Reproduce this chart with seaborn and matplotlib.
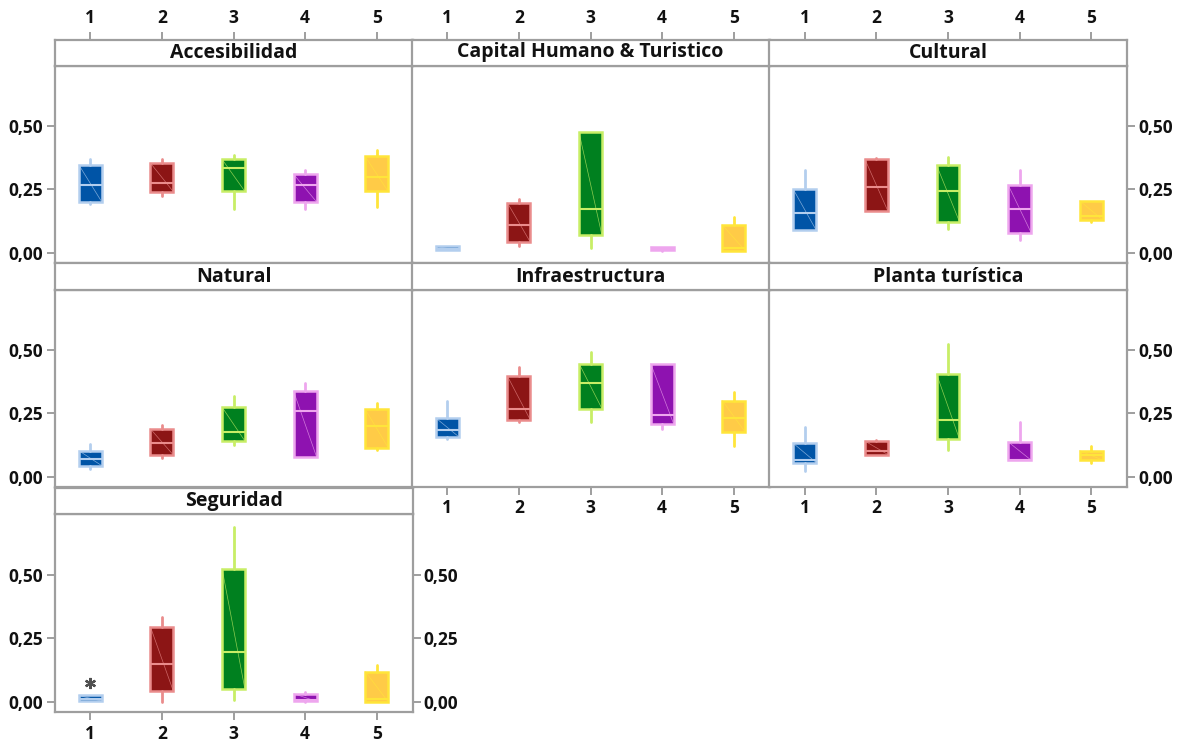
import numpy as np
import pandas as pd
import seaborn as sns
import matplotlib.pyplot as plt

# ---- data: five-number summaries per factor (rows) and group (columns) ----
factors = ["Accesibilidad", "Capital Humano & Turistico", "Cultural",
           "Natural", "Infraestructura", "Planta turística", "Seguridad"]
groups = [1, 2, 3, 4, 5]

whisker_low = [
    [0.191, 0.224, 0.171, 0.171, 0.178],
    [0.009, 0.026, 0.017, 0.008, 0.006],
    [0.088, 0.164, 0.093, 0.051, 0.121],
    [0.029, 0.072, 0.124, 0.078, 0.104],
    [0.150, 0.215, 0.215, 0.189, 0.121],
    [0.020, 0.087, 0.104, 0.065, 0.055],
    [0.004, 0.000, 0.009, 0.000, 0.000],
]
quart1 = [
    [0.200, 0.240, 0.241, 0.200, 0.241],
    [0.009, 0.041, 0.068, 0.009, 0.008],
    [0.088, 0.164, 0.122, 0.079, 0.129],
    [0.043, 0.085, 0.140, 0.078, 0.114],
    [0.157, 0.223, 0.268, 0.209, 0.176],
    [0.055, 0.087, 0.148, 0.065, 0.065],
    [0.004, 0.043, 0.050, 0.003, 0.001],
]
median = [
    [0.268, 0.276, 0.333, 0.268, 0.300],
    [0.016, 0.110, 0.172, 0.015, 0.018],
    [0.155, 0.257, 0.241, 0.171, 0.145],
    [0.068, 0.131, 0.174, 0.258, 0.198],
    [0.183, 0.268, 0.369, 0.244, 0.232],
    [0.064, 0.100, 0.223, 0.066, 0.085],
    [0.013, 0.148, 0.198, 0.010, 0.013],
]
quart3 = [
    [0.346, 0.353, 0.368, 0.309, 0.379],
    [0.024, 0.196, 0.474, 0.022, 0.109],
    [0.249, 0.368, 0.345, 0.267, 0.204],
    [0.102, 0.188, 0.274, 0.336, 0.265],
    [0.231, 0.396, 0.446, 0.446, 0.300],
    [0.131, 0.140, 0.405, 0.137, 0.102],
    [0.026, 0.295, 0.524, 0.033, 0.120],
]
whisker_high = [
    [0.368, 0.368, 0.386, 0.325, 0.404],
    [0.024, 0.210, 0.474, 0.022, 0.142],
    [0.325, 0.375, 0.378, 0.325, 0.204],
    [0.128, 0.205, 0.317, 0.368, 0.291],
    [0.300, 0.431, 0.490, 0.446, 0.333],
    [0.196, 0.144, 0.522, 0.215, 0.120],
    [0.026, 0.334, 0.687, 0.039, 0.144],
]
outlier_factor = ["Seguridad"]
outlier_group = [1]
outlier_value = [0.076]

ytick_values = [0.0, 0.25, 0.50]
ytick_labels = ["0,00", "0,25", "0,50"]

fill_colors = ["#0054A6", "#8C1515", "#00801F", "#8E12B0", "#FFCB47"]
edge_colors = ["#B3CEEE", "#EA8C8C", "#C8EE66", "#EEA6EE", "#FFE53A"]
frame_color = "#9E9E9E"
text_color = "#111111"

rows = []
for i, f in enumerate(factors):
    for j, grp in enumerate(groups):
        fl = [v for of, og, v in zip(outlier_factor, outlier_group, outlier_value)
              if of == f and og == grp]
        rows.append(dict(factor=f, group=grp, lo=whisker_low[i][j], q1=quart1[i][j],
                         med=median[i][j], q3=quart3[i][j], hi=whisker_high[i][j],
                         fliers=fl))
df = pd.DataFrame(rows)

sns.set_theme(style="white")
plt.rcParams["font.family"] = ["Open Sans", "DejaVu Sans"]
plt.rcParams["font.weight"] = "bold"

BOX_W = 0.32


def draw_boxes(data, **kws):
    ax = plt.gca()
    stats = [dict(whislo=r.lo, q1=r.q1, med=r.med, q3=r.q3, whishi=r.hi,
                  fliers=r.fliers, label=str(r.group)) for r in data.itertuples()]
    pos = data["group"].to_numpy()
    art = ax.bxp(stats, positions=pos, widths=BOX_W, patch_artist=True,
                 showcaps=False, manage_ticks=False,
                 flierprops=dict(marker=(6, 2, 0), markersize=8,
                                 markeredgecolor="#505050", markeredgewidth=1.6,
                                 linestyle="none"),
                 zorder=3)
    for k, grp in enumerate(pos):
        c = groups.index(grp)
        box = art["boxes"][k]
        box.set_facecolor(fill_colors[c])
        box.set_edgecolor(edge_colors[c])
        box.set_linewidth(1.8)
        art["medians"][k].set_color(edge_colors[c])
        art["medians"][k].set_linewidth(1.5)
        for w in art["whiskers"][2 * k:2 * k + 2]:
            w.set_color(edge_colors[c])
            w.set_linewidth(2.0)
        # thin diagonal across each box
        r = data.iloc[k]
        ax.plot([grp - BOX_W / 2, grp + BOX_W / 2], [r.q3, r.q1],
                color=edge_colors[c], lw=0.5, alpha=0.7, zorder=4)


g = sns.FacetGrid(df, col="factor", col_wrap=3, col_order=factors,
                  sharex=False, sharey=False, despine=False, height=2, aspect=1.8)
g.map_dataframe(draw_boxes)
g.set_titles("")
g.set_axis_labels("", "")

fig = g.figure
fig.set_size_inches(11.8, 7.42)
W, H = 1180.0, 742.0

col_left = [54.5, 411.5, 769.0]
col_width = 358.0
strip_top = [39.5, 263.5, 488.0]
strip_h = 26.0
plot_bottom = [262.7, 486.7, 712.3]

tick_kw = dict(direction="out", length=6, width=1.4, color=frame_color,
               labelsize=12.5, labelcolor=text_color)

for idx, (ax, name) in enumerate(zip(g.axes.flat, factors)):
    r, c = divmod(idx, 3)
    top = strip_top[r] + strip_h
    ax.set_position([col_left[c] / W, 1 - plot_bottom[r] / H,
                     col_width / W, (plot_bottom[r] - top) / H])
    ax.set_xlim(0.5, 5.5)
    ax.set_ylim(-0.04, 0.738)
    ax.set_facecolor("white")
    for sp in ax.spines.values():
        sp.set_color(frame_color)
        sp.set_linewidth(1.6)
    ax.set_xticks(groups, labels=[str(v) for v in groups])
    ax.set_yticks(ytick_values, labels=ytick_labels)
    bottom_ticks = (r == 2 and c == 0) or (r == 1 and c in (1, 2))
    left_ticks = c == 0
    right_ticks = (c == 2) or (r == 2 and c == 0)
    ax.tick_params(axis="x", bottom=bottom_ticks, labelbottom=bottom_ticks,
                   top=False, labeltop=False, pad=3, **tick_kw)
    ax.tick_params(axis="y", left=left_ticks, labelleft=left_ticks,
                   right=right_ticks, labelright=right_ticks, pad=2, **tick_kw)
    ax.grid(False)

    # facet header strip
    sax = fig.add_axes([col_left[c] / W, 1 - top / H, col_width / W, strip_h / H])
    sax.set_xlim(0.5, 5.5)
    sax.set_ylim(0, 1)
    sax.set_facecolor("white")
    for sp in sax.spines.values():
        sp.set_color(frame_color)
        sp.set_linewidth(1.6)
    sax.set_yticks([])
    if r == 0:
        sax.set_xticks(groups, labels=[str(v) for v in groups])
        sax.tick_params(axis="x", top=True, labeltop=True, bottom=False,
                        labelbottom=False, pad=3, **tick_kw)
    else:
        sax.set_xticks([])
    sax.text(3.0, 0.5, name, ha="center", va="center", fontsize=14,
             fontweight="bold", color=text_color)

fig.savefig("out.png", dpi=100)
